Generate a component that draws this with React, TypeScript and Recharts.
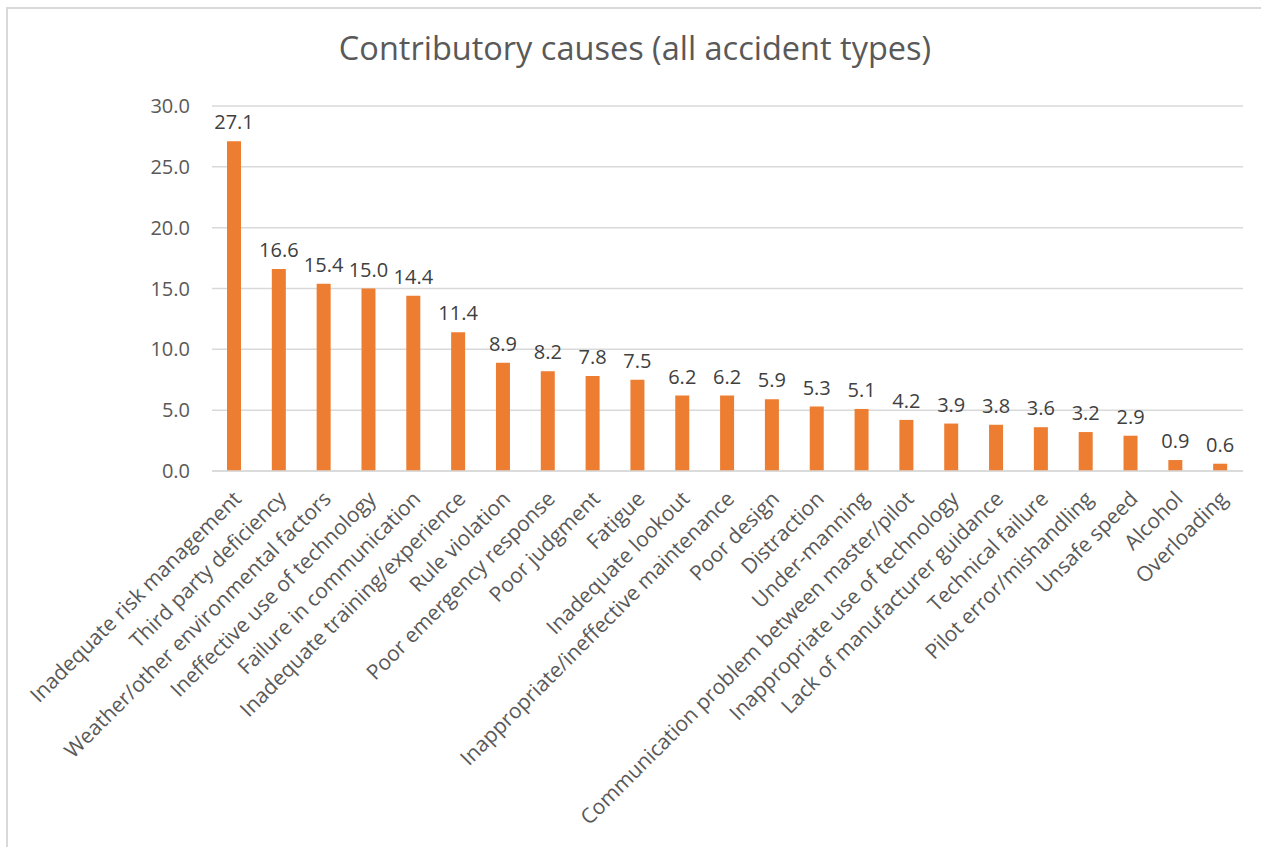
import { BarChart, Bar, XAxis, YAxis, CartesianGrid, LabelList } from 'recharts';

const causes = [
  'Inadequate risk management',
  'Third party deficiency',
  'Weather/other environmental factors',
  'Ineffective use of technology',
  'Failure in communication',
  'Inadequate training/experience',
  'Rule violation',
  'Poor emergency response',
  'Poor judgment',
  'Fatigue',
  'Inadequate lookout',
  'Inappropriate/ineffective maintenance',
  'Poor design',
  'Distraction',
  'Under-manning',
  'Communication problem between master/pilot',
  'Inappropriate use of technology',
  'Lack of manufacturer guidance',
  'Technical failure',
  'Pilot error/mishandling',
  'Unsafe speed',
  'Alcohol',
  'Overloading',
];

const shares = [27.1, 16.6, 15.4, 15.0, 14.4, 11.4, 8.9, 8.2, 7.8, 7.5, 6.2, 6.2, 5.9, 5.3, 5.1, 4.2, 3.9, 3.8, 3.6, 3.2, 2.9, 0.9, 0.6];

const yTicks = [0, 5, 10, 15, 20, 25, 30];

const data = causes.map((name, i) => ({ name, value: shares[i] }));

const FONT = '"Open Sans", sans-serif';

const CauseTick = (props: any) => {
  const { x, y, payload } = props;
  return (
    <g transform={`translate(${x + 3},${y + 16})`}>
      <text
        x={0}
        y={0}
        dy="0.35em"
        textAnchor="end"
        transform="rotate(-45)"
        fill="#595959"
        fontSize={21}
        fontFamily={FONT}
      >
        {payload.value}
      </text>
    </g>
  );
};

export default function App() {
  return (
    <div style={{ position: 'fixed', left: 0, top: 0, width: 1261, height: 847, background: '#fff', overflow: 'hidden' }}>
      <div
        style={{
          position: 'absolute',
          left: 6,
          top: 7,
          width: 1260,
          height: 845,
          borderTop: '2px solid #d9d9d9',
          borderLeft: '2px solid #d9d9d9',
        }}
      />
      <div
        style={{
          position: 'absolute',
          left: 0,
          top: 25,
          width: 1270,
          textAlign: 'center',
          fontFamily: FONT,
          fontSize: 32.5,
          color: '#595959',
        }}
      >
        Contributory causes (all accident types)
      </div>
      <div style={{ position: 'absolute', left: 0, top: 0 }}>
        <BarChart
          width={1261}
          height={847}
          data={data}
          margin={{ top: 106, right: 18, bottom: 0, left: 0 }}
        >
          <CartesianGrid vertical={false} stroke="#d9d9d9" strokeWidth={1.5} />
          <XAxis
            dataKey="name"
            interval={0}
            height={376}
            tickLine={false}
            axisLine={{ stroke: '#d9d9d9', strokeWidth: 1.5 }}
            tick={<CauseTick />}
          />
          <YAxis
            width={212}
            domain={[0, 30]}
            ticks={yTicks}
            tickFormatter={(v: number) => v.toFixed(1)}
            axisLine={false}
            tickLine={false}
            tickSize={0}
            tickMargin={22}
            tick={{ fill: '#595959', fontSize: 20, fontFamily: FONT }}
          />
          <Bar dataKey="value" fill="#ED7D31" barSize={14} isAnimationActive={false}>
            <LabelList
              dataKey="value"
              position="top"
              offset={12}
              formatter={(v: any) => Number(v).toFixed(1)}
              fill="#404040"
              fontSize={20}
              fontFamily={FONT}
            />
          </Bar>
        </BarChart>
      </div>
    </div>
  );
}
